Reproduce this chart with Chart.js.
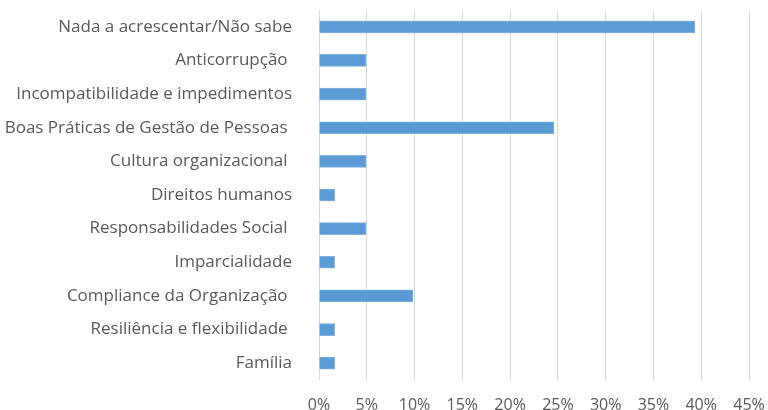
<!DOCTYPE html>
<html>
<head>
<meta charset="utf-8">
<script src="https://cdn.jsdelivr.net/npm/chart.js@4"></script>
<style>
  html, body { margin: 0; padding: 0; background: #fff; }
  #wrap { width: 768px; height: 410px; }
</style>
</head>
<body>
<div id="wrap"><canvas id="chart"></canvas></div>
<script>
// categories, top to bottom
const categories = [
    'Nada a acrescentar/Não sabe',
    'Anticorrupção ',
    'Incompatibilidade e impedimentos',
    'Boas Práticas de Gestão de Pessoas ',
    'Cultura organizacional ',
    'Direitos humanos',
    'Responsabilidades Social ',
    'Imparcialidade',
    'Compliance da Organização ',
    'Resiliência e flexibilidade ',
    'Família'
];

// share of answers (%)
const shares = [39.34, 4.92, 4.92, 24.59, 4.92, 1.64, 4.92, 1.64, 9.84, 1.64, 1.64];

const xTicks = [0, 5, 10, 15, 20, 25, 30, 35, 40, 45];

const textColor = '#595959';
const fontFamily = '"Open Sans", "Liberation Sans", sans-serif';

// let the layout padding alone decide the plot edges
function noAxisPadding(axis) {
    axis.paddingTop = 0;
    axis.paddingBottom = 0;
    axis.paddingLeft = 0;
    axis.paddingRight = 0;
}

new Chart(document.getElementById('chart'), {
    type: 'bar',
    data: {
        labels: categories,
        datasets: [{
            data: shares,
            backgroundColor: '#5B9BD5',
            borderColor: '#7FB2E0',
            borderWidth: 1,
            barThickness: 12
        }]
    },
    options: {
        indexAxis: 'y',
        responsive: true,
        maintainAspectRatio: false,
        animation: false,
        layout: { padding: { top: 10, right: 19, bottom: 0, left: 0 } },
        plugins: {
            legend: { display: false },
            tooltip: { enabled: false }
        },
        scales: {
            x: {
                min: 0,
                max: 45,
                afterBuildTicks: axis => { axis.ticks = xTicks.map(v => ({ value: v })); },
                afterFit: axis => { axis.height = 30; noAxisPadding(axis); },
                ticks: {
                    color: textColor,
                    font: { family: fontFamily, size: 16 },
                    padding: 16,
                    maxRotation: 0,
                    callback: v => v + '%'
                },
                grid: { color: '#D9D9D9', lineWidth: 1, drawTicks: false },
                border: { display: false }
            },
            y: {
                afterFit: axis => { axis.width = 319; noAxisPadding(axis); },
                ticks: {
                    color: textColor,
                    font: { family: fontFamily, size: 17 },
                    padding: 19
                },
                grid: { display: false },
                border: { display: false }
            }
        }
    }
});
</script>
</body>
</html>
